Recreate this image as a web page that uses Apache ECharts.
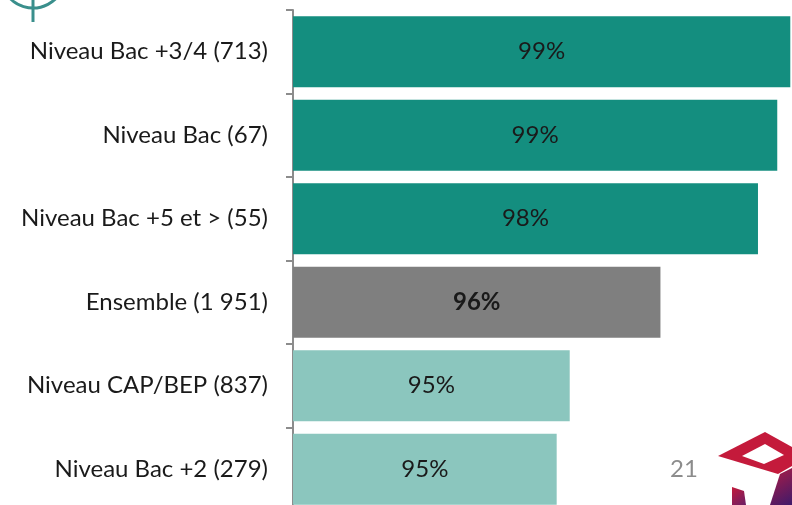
<!DOCTYPE html>
<html>
<head>
<meta charset="utf-8">
<script src="https://cdn.jsdelivr.net/npm/echarts@6/dist/echarts.min.js"></script>
<style>
  html, body { margin: 0; padding: 0; background: #fff; }
  #main { width: 792px; height: 505px; }
</style>
</head>
<body>
<div id="main"></div>
<script>
// categories top to bottom
const categories = [
  'Niveau Bac +3/4 (713)',
  'Niveau Bac (67)',
  'Niveau Bac +5 et > (55)',
  'Ensemble (1 951)',
  'Niveau CAP/BEP (837)',
  'Niveau Bac +2 (279)'
];
// satisfaction rate in %
const values = [98.77, 98.54, 98.2, 96.48, 94.88, 94.65];
const barColors = ['#148e7f', '#148e7f', '#148e7f', '#7f7f7f', '#8bc6be', '#8bc6be'];
const boldRow = 'Ensemble (1 951)';

const FONT = 'Lato';

const chart = echarts.init(document.getElementById('main'));

chart.setOption({
  animation: false,
  grid: { left: 293, right: 0, top: 10, height: 501, outerBoundsMode: 'none' },
  xAxis: {
    type: 'value',
    min: 90,
    max: 98.8,
    show: false
  },
  yAxis: {
    type: 'category',
    data: categories,
    inverse: true,
    axisLine: { show: true, lineStyle: { color: '#8c8c8c', width: 2 } },
    axisTick: { show: true, length: 7, lineStyle: { color: '#8c8c8c', width: 2 } },
    axisLabel: { margin: 25, fontSize: 24, color: '#1a1a1a', fontFamily: FONT }
  },
  series: [{
    type: 'bar',
    barCategoryGap: '15%',
    data: values.map((v, i) => ({
      value: v,
      itemStyle: { color: barColors[i] },
      label: { fontWeight: categories[i] === boldRow ? 'bold' : 'normal' }
    })),
    label: {
      show: true,
      position: 'inside',
      fontSize: 24,
      color: '#1a1a1a',
      fontFamily: FONT,
      formatter: p => Math.round(p.value) + '%'
    }
  }],
  graphic: [
    // top-left logo fragment
    { type: 'arc', shape: { cx: 33, cy: -24, r: 32, startAngle: 0.3, endAngle: Math.PI - 0.3 },
      style: { stroke: '#3a8f8c', lineWidth: 3, fill: null } },
    { type: 'line', shape: { x1: 33, y1: 0, x2: 33, y2: 22 },
      style: { stroke: '#3a8f8c', lineWidth: 3 } },
    // page number
    { type: 'text', left: 670, top: 457,
      style: { text: '21', fontSize: 24, fill: '#8c8c8c', fontFamily: FONT } },
    // bottom-right logo
    { type: 'polygon', shape: { points: [[718, 456], [765, 432], [792, 447], [792, 466], [778, 474], [718, 456]] },
      style: { fill: '#c41a3b' } },
    { type: 'polygon', shape: { points: [[742, 456], [765, 444], [784, 455], [764, 464]] },
      style: { fill: '#ffffff' } },
    { type: 'polygon', shape: { points: [[780, 474], [792, 468], [792, 505], [770, 505]] },
      style: { fill: new echarts.graphic.LinearGradient(0, 0, 1, 1, [
        { offset: 0, color: '#b01c45' }, { offset: 1, color: '#3f1a6a' }]) } },
    { type: 'polygon', shape: { points: [[732, 487], [744, 491], [746, 505], [732, 505]] },
      style: { fill: new echarts.graphic.LinearGradient(0, 0, 1, 1, [
        { offset: 0, color: '#c41a3b' }, { offset: 1, color: '#6a1f66' }]) } }
  ]
});
</script>
</body>
</html>
